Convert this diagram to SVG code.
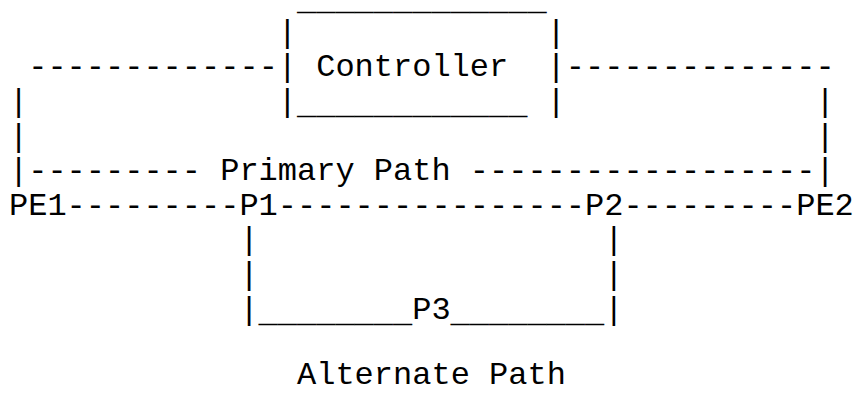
<svg xmlns="http://www.w3.org/2000/svg" width="855" height="394" viewBox="0 0 855 394">
<style>
text{font-family:"Liberation Mono","Courier New",monospace;font-size:32px;fill:#000;white-space:pre}
</style>
<rect width="855" height="394" fill="#fff"/>
<g id="connectors">
<text x="28.2" y="76.4">-------------</text>
<text x="565.8" y="76.4">--------------</text>
<text x="9" y="111">|</text>
<text x="815.4" y="111">|</text>
<text x="9" y="145.6">|</text>
<text x="815.4" y="145.6">|</text>
<text x="9" y="180.2">|</text>
<text x="28.2" y="180.2">---------</text>
<text x="469.8" y="180.2">------------------</text>
<text x="815.4" y="180.2">|</text>
<text x="66.6" y="214.8">---------</text>
<text x="277.8" y="214.8">----------------</text>
<text x="623.4" y="214.8">---------</text>
<text x="239.4" y="249.4">|</text>
<text x="604.2" y="249.4">|</text>
<text x="239.4" y="284">|</text>
<text x="604.2" y="284">|</text>
<text x="239.4" y="318.6">|</text>
<text x="258.6" y="321.6">________</text>
<text x="450.6" y="321.6">________</text>
<text x="604.2" y="318.6">|</text>
</g>
<g id="controller">
<text x="297" y="10.2">_____________</text>
<text x="277.8" y="41.8">|</text>
<text x="546.6" y="41.8">|</text>
<text x="277.8" y="76.4">|</text>
<text x="316.2" y="76.4">Controller</text>
<text x="546.6" y="76.4">|</text>
<text x="277.8" y="111">|</text>
<text x="297" y="114">____________</text>
<text x="546.6" y="111">|</text>
</g>
<g id="PE1"><text x="9" y="214.8">PE1</text></g>
<g id="P1"><text x="239.4" y="214.8">P1</text></g>
<g id="P2"><text x="585" y="214.8">P2</text></g>
<g id="PE2"><text x="796.2" y="214.8">PE2</text></g>
<g id="P3"><text x="412.2" y="318.6">P3</text></g>
<g id="labels">
<text x="220.2" y="180.2">Primary Path</text>
<text x="297" y="384">Alternate Path</text>
</g>
</svg>
